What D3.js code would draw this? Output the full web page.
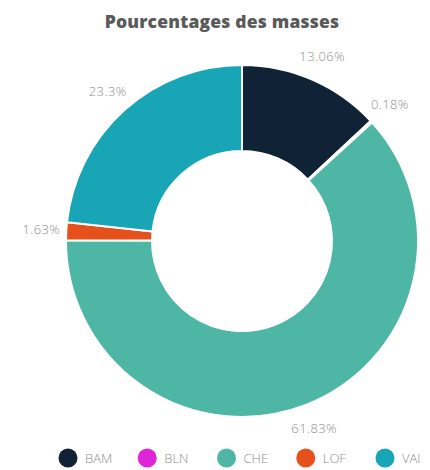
<!DOCTYPE html>
<html><head><meta charset="utf-8">
<script src="https://cdn.jsdelivr.net/npm/d3@7"></script>
<style>body{margin:0;background:#fff}svg{display:block}</style>
</head><body>
<svg id="c" width="430" height="470"></svg>
<script>
const categories = ["BAM", "BLN", "CHE", "LOF", "VAI"];
const values = [13.06, 0.18, 61.83, 1.63, 23.3];
const labels = ["13.06%", "0.18%", "61.83%", "1.63%", "23.3%"];
const colors = ["#0f2236", "#e024d8", "#4db6a4", "#e6501b", "#18a6b6"];
const title = "Pourcentages des masses";

const svg = d3.select("#c");
const cx = 242, cy = 241, R = 176, r = 90;
svg.append("text").attr("x", 222).attr("y", 28).attr("text-anchor", "middle")
  .attr("font-family", "'Open Sans', sans-serif").attr("font-weight", 800)
  .attr("font-size", 17.5).attr("fill", "#5a5a5a").attr("letter-spacing", 0.2).text(title);

const data = categories.map((c, i) => ({c, v: values[i], l: labels[i], col: colors[i]}));
const pie = d3.pie().value(d => d.v).sort(null);
const arcs = pie(data);
const arc = d3.arc().innerRadius(r).outerRadius(R);
const g = svg.append("g").attr("transform", `translate(${cx},${cy})`);
g.selectAll("path").data(arcs).join("path").attr("d", arc)
  .attr("fill", d => d.data.col).attr("stroke", "#fff").attr("stroke-width", 2);
const la = d3.arc().innerRadius(201).outerRadius(201);
g.selectAll("text").data(arcs).join("text")
  .attr("transform", d => `translate(${la.centroid(d)})`)
  .attr("text-anchor", "middle").attr("dy", "0.35em")
  .attr("font-family", "'Open Sans', sans-serif").attr("font-weight", 300).attr("font-size", 13)
  .attr("letter-spacing", 0.4).attr("fill", "#8e8e8e")
  .text(d => d.data.l);

const lx = d3.scalePoint().domain(categories).range([68, 385]);
const lg = svg.append("g");
const items = lg.selectAll("g").data(data).join("g").attr("transform", d => `translate(${lx(d.c)},458)`);
items.append("circle").attr("r", 9.5).attr("fill", d => d.col);
items.append("text").attr("x", 17).attr("dy", "0.35em").attr("font-family", "'Open Sans', sans-serif")
  .attr("font-weight", 300).attr("font-size", 13).attr("fill", "#8e8e8e").text(d => d.c);
</script>
</body></html>
